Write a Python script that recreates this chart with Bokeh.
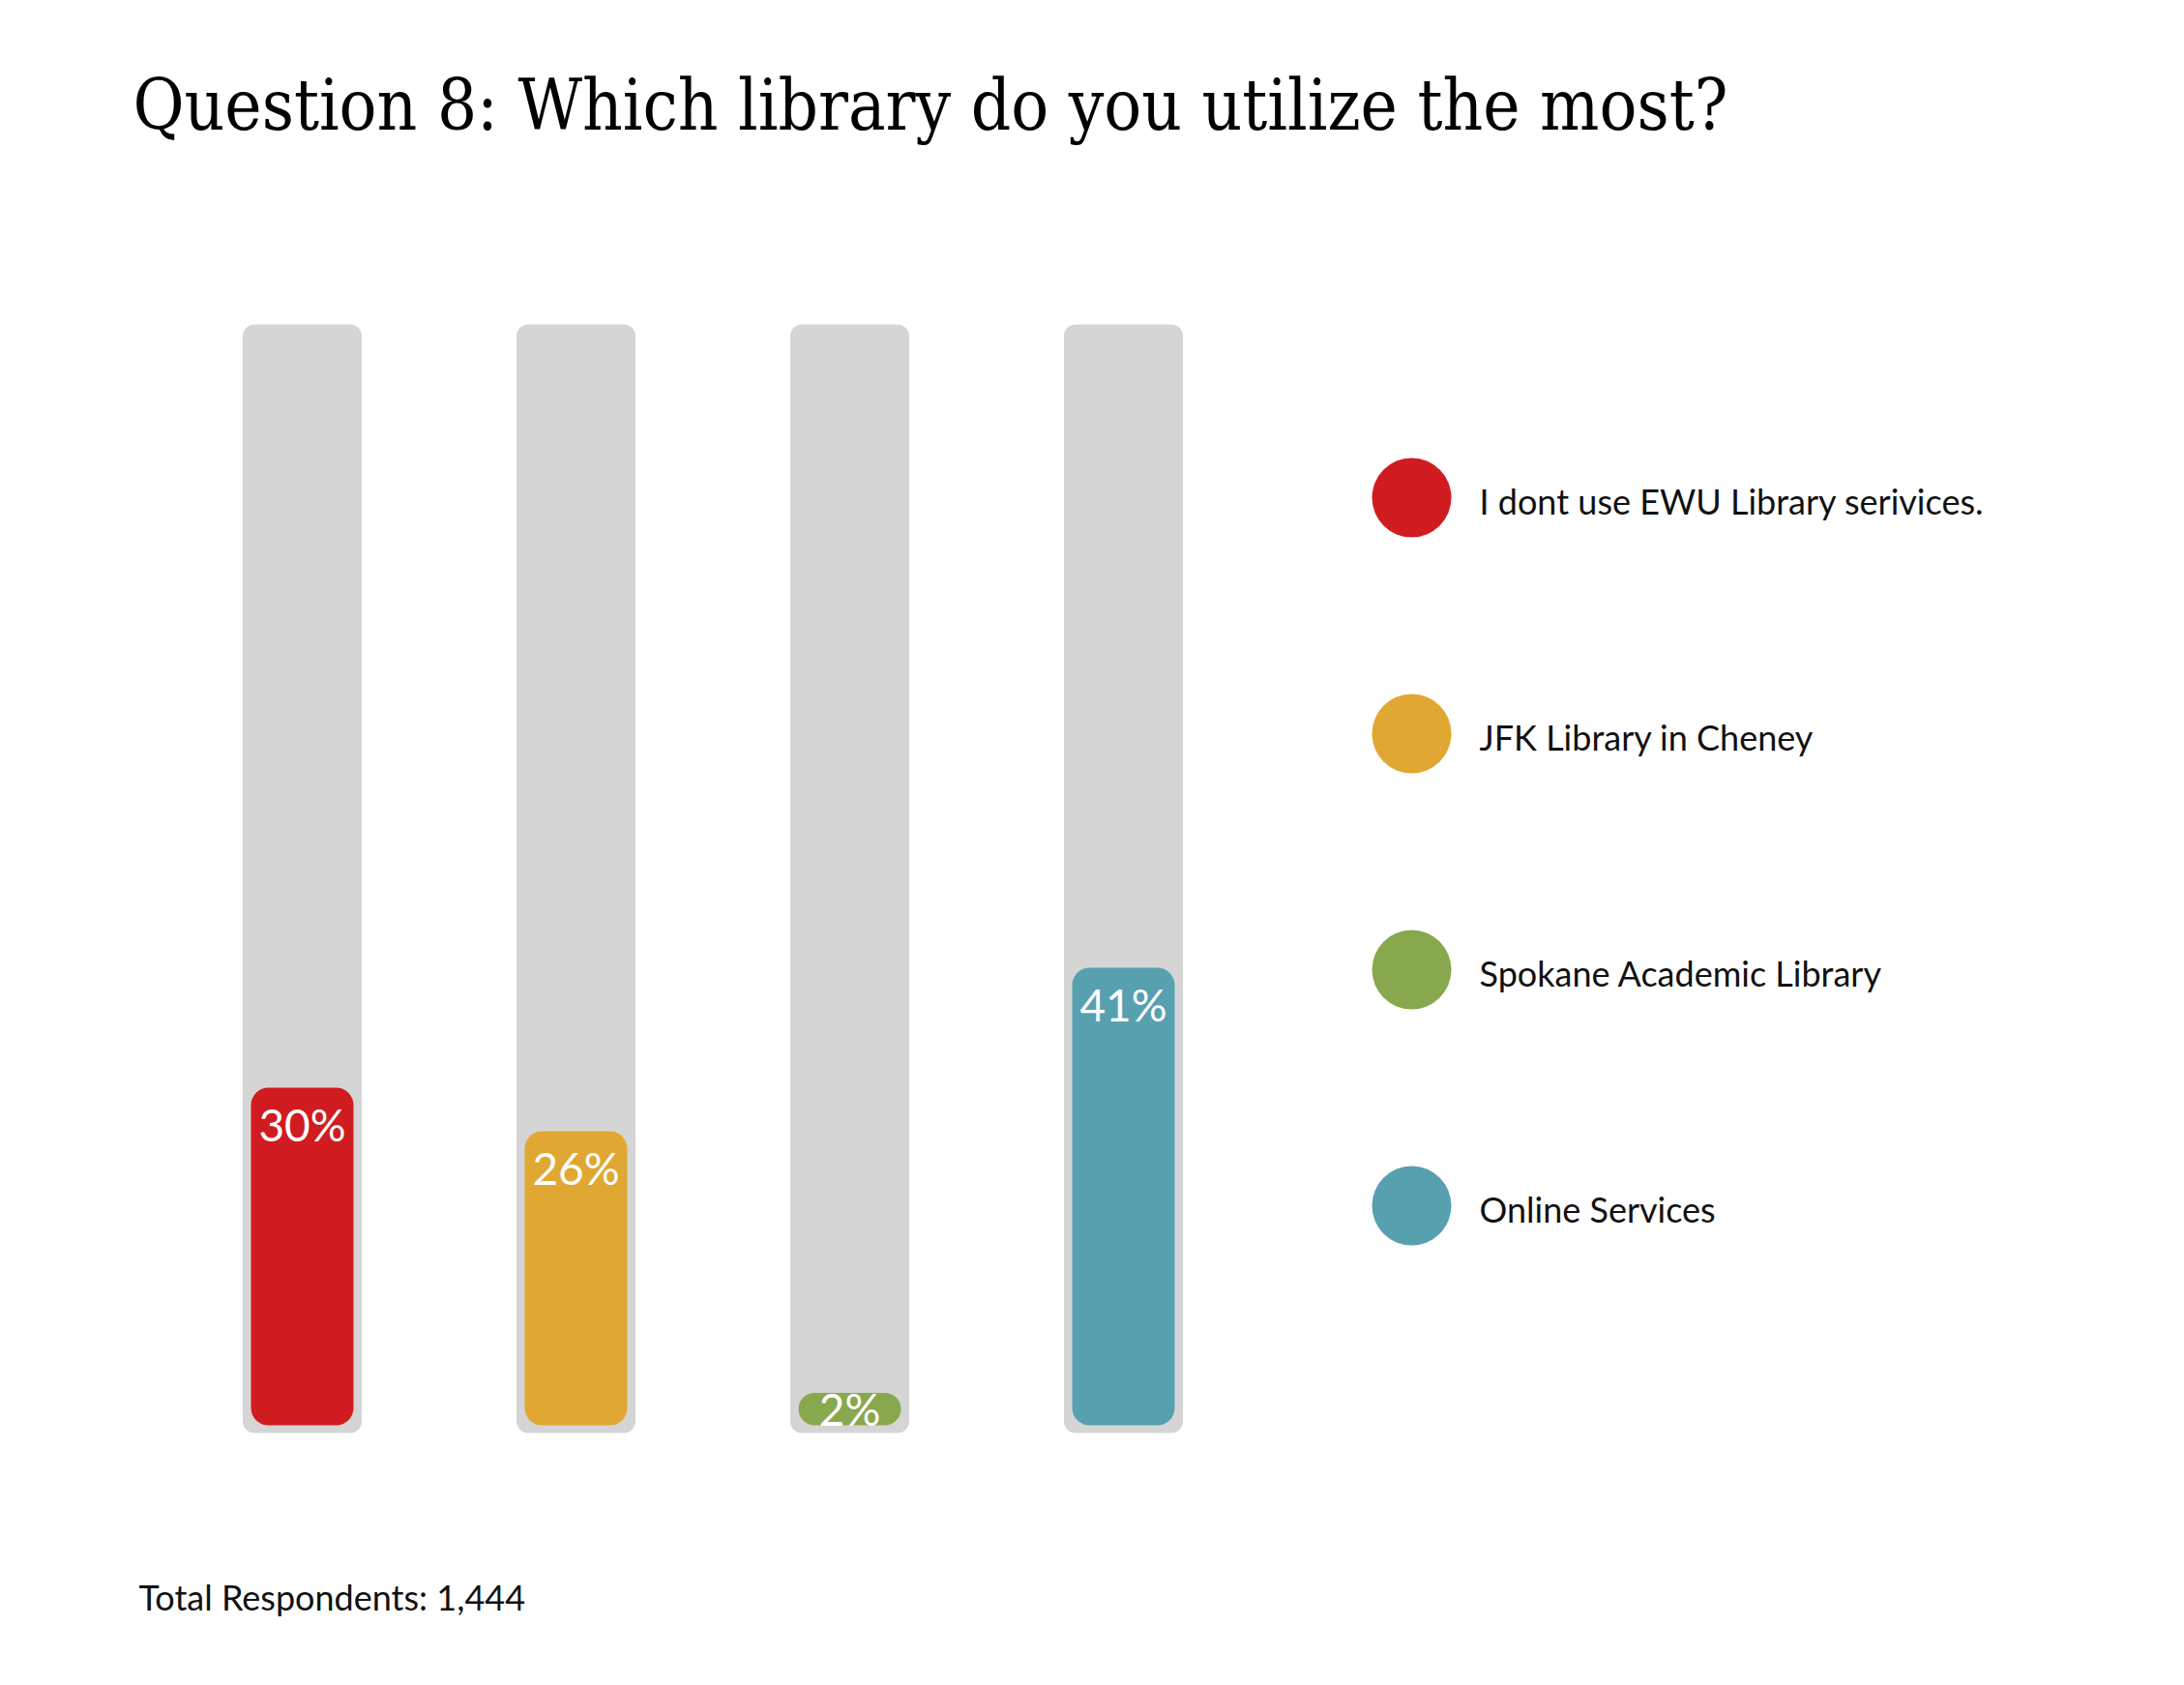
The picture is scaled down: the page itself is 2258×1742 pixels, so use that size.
from bokeh.plotting import figure
from bokeh.models import ColumnDataSource, Label, Range1d
from bokeh.core.properties import value
from bokeh.embed import file_html
from bokeh.resources import INLINE

# ---- data ----
categories = ["I dont use EWU Library serivices.", "JFK Library in Cheney",
              "Spokane Academic Library", "Online Services"]
percentages = [30, 26, 2, 41]
colors = ["#D01C20", "#E0A832", "#88A84E", "#57A0B0"]
title_text = "Question 8: Which library do you utilize the most?"
footer_text = "Total Respondents: 1,444"
full_scale = 100

# ---- layout (screen pixels) ----
W, H = 2258, 1742
x0_px, dx_px = 312, 283          # bar centre of first bar, spacing
base_px = 1462                   # pixel row of value 0
k = 11.27                        # pixels per percentage point

x_start = -x0_px / dx_px
x_end = (W - x0_px) / dx_px
y_end = base_px / k
y_start = -(H - base_px) / k

p = figure(width=W, height=H, output_backend="svg", toolbar_location=None,
           x_range=Range1d(x_start, x_end), y_range=Range1d(y_start, y_end),
           min_border=0, outline_line_color=None, background_fill_color="white",
           border_fill_color="white")
p.axis.visible = False
p.grid.visible = False

n = len(categories)
xs = list(range(n))
bg_pad = 19 / k
fg_pad = 11 / k
src = ColumnDataSource(dict(
    x=xs, val=percentages, color=colors, cat=categories,
    bg_top=[full_scale] * n, bg_bottom=[-bg_pad] * n, fg_bottom=[-fg_pad] * n,
))

p.vbar(x="x", top="bg_top", bottom="bg_bottom", width=123 / dx_px, source=src,
       fill_color="#D5D5D5", line_color=None, border_radius=12)
p.vbar(x="x", top="val", bottom="fg_bottom", width=106 / dx_px, source=src,
       fill_color="color", line_color=None, border_radius=18)

# value labels inside bars
for i, v in enumerate(percentages):
    bar_h = (v + fg_pad) * k
    off = min(38, bar_h / 2)
    p.add_layout(Label(x=xs[i], y=v, text=f"{v}%", text_align="center",
                       text_baseline="middle", y_offset=-off,
                       text_font="Lato", text_font_size="46px",
                       text_color="white"))

# legend
leg_x = (1459 - x0_px) / dx_px
leg_ys = [(base_px - (514 + 244 * i)) / k for i in range(n)]
leg_src = ColumnDataSource(dict(x=[leg_x] * n, y=leg_ys, color=colors, cat=categories))
p.scatter(x="x", y="y", size=82, marker="circle", fill_color="color",
          line_color=None, source=leg_src)
p.text(x="x", y="y", text="cat", source=leg_src, x_offset=70, y_offset=3,
       text_baseline="middle", text_align="left",
       text_font=value("Lato"), text_font_size="36px", text_color="#111111")

# title
p.add_layout(Label(x=137, y=H - 137 + 29, x_units="screen", y_units="screen",
                   text=title_text, text_baseline="alphabetic",
                   text_font="DejaVu Serif Condensed, DejaVu Serif",
                   text_font_size="72px", text_color="#000000"))
# footer
p.add_layout(Label(x=143, y=H - 1664 + 14, x_units="screen", y_units="screen",
                   text=footer_text, text_baseline="alphabetic",
                   text_font="Lato", text_font_size="36px",
                   text_color="#111111"))

open("out.html", "w").write(file_html(p, INLINE))
